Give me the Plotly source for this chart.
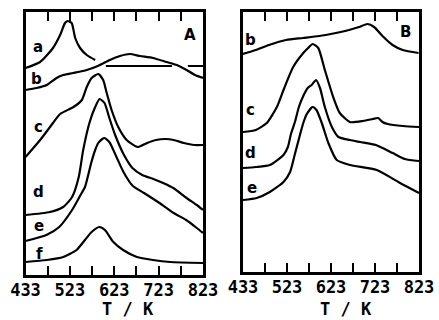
import plotly.graph_objects as go

# ---- Panel A data (T in K, signal in arbitrary offset units) ----
a_T = [423, 456, 485, 501, 512, 518, 527, 535, 546, 561, 580, 592, 604, 753, 770, 789, 823]
a_I = [207, 213, 227, 240, 252, 254, 252, 237, 227, 220, 215, None, 209, 209, None, 209, 209]

bA_T = [423, 448, 471, 493, 508, 530, 561, 586, 613, 636, 658, 681, 710, 741, 764, 786, 805, 823]
bA_I = [185, 187, 190, 197, 200, 202, 205, 209, 215, 219, 221, 219, 217, 213, 210, 205, 200, 197]

cA_T = [423, 456, 485, 501, 531, 550, 561, 572, 587, 598, 606, 617, 632, 651, 676, 697, 717, 739, 757, 780, 803, 823]
cA_I = [118, 135, 152, 161, 168, 175, 188, 197, 201, 195, 182, 165, 148, 135, 128, 132, 135, 136, 135, 132, 130, 130]

dA_T = [423, 478, 508, 528, 543, 553, 567, 580, 590, 601, 612, 625, 645, 664, 686, 711, 733, 756, 786, 809, 823]
dA_I = [60, 63, 68, 78, 98, 125, 152, 168, 176, 172, 157, 140, 120, 107, 100, 96, 92, 87, 77, 70, 65]

eA_T = [423, 470, 499, 528, 547, 557, 571, 580, 587, 596, 601, 612, 628, 645, 665, 690, 725, 757, 785, 809, 823]
eA_I = [34, 40, 48, 65, 80, 88, 112, 125, 132, 136, 137, 133, 118, 102, 89, 82, 72, 62, 55, 47, 42]

fA_T = [423, 471, 508, 538, 557, 572, 589, 602, 621, 643, 674, 710, 749, 823]
fA_I = [13, 15, 18, 25, 35, 43, 48, 45, 33, 25, 18, 15, 13, 12]

# ---- Panel B data ----
bB_T = [423, 452, 482, 521, 559, 596, 634, 664, 687, 706, 721, 740, 763, 786, 822]
bB_I = [218, 222, 227, 232, 234, 236, 239, 242, 245, 248, 245, 236, 227, 222, 219]

cB_T = [423, 452, 477, 500, 515, 537, 560, 571, 581, 594, 609, 628, 643, 666, 696, 718, 730, 740, 752, 787, 823]
cB_I = [140, 142, 149, 165, 182, 205, 219, 224, 228, 224, 202, 175, 159, 150, 151, 153, 154, 150, 148, 146, 145]

dB_T = [423, 452, 484, 515, 525, 532, 541, 550, 560, 570, 579, 589, 598, 609, 625, 640, 666, 689, 725, 763, 791, 823]
dB_I = [104, 105, 107, 117, 125, 138, 150, 165, 176, 184, 187, 192, 184, 165, 145, 135, 132, 130, 127, 119, 113, 111]

eB_T = [423, 454, 484, 515, 530, 541, 553, 560, 568, 581, 590, 602, 617, 636, 666, 727, 780, 823]
eB_I = [72, 74, 80, 90, 100, 118, 138, 149, 158, 165, 162, 149, 129, 112, 107, 102, 89, 79]

tick_vals = [423, 473, 523, 573, 623, 673, 723, 773, 823]
tick_text = ["433", "", "523", "", "623", "", "723", "", "823"]

labelsA = [("a", 452, 228), ("b", 448, 196), ("c", 452, 148), ("d", 452, 83), ("e", 454, 49), ("f", 454, 21)]
labelsB = [("b", 441, 232), ("c", 441, 162), ("d", 441, 119), ("e", 443, 84)]

fig = go.Figure()
line = dict(color="black", width=2.2, shape="spline", smoothing=0.6)
for T, I in [(a_T, a_I), (bA_T, bA_I), (cA_T, cA_I), (dA_T, dA_I), (eA_T, eA_I), (fA_T, fA_I)]:
    fig.add_trace(go.Scatter(x=T, y=I, mode="lines", line=line, xaxis="x", yaxis="y",
                             showlegend=False, hoverinfo="skip"))
for T, I in [(bB_T, bB_I), (cB_T, cB_I), (dB_T, dB_I), (eB_T, eB_I)]:
    fig.add_trace(go.Scatter(x=T, y=I, mode="lines", line=line, xaxis="x2", yaxis="y2",
                             showlegend=False, hoverinfo="skip"))

mono = dict(family="DejaVu Sans Mono", size=17, color="black", weight="bold")
xcommon = dict(range=[423, 823], tickvals=tick_vals, ticktext=tick_text, ticks="inside",
               ticklen=9, tickwidth=2, tickcolor="black", showline=True, linewidth=2.5,
               linecolor="black", mirror="ticks", showgrid=False, zeroline=False,
               tickfont=mono, fixedrange=True, automargin=False, ticklabelstandoff=-2)
ycommon = dict(showticklabels=False, ticks="", showline=True, linewidth=2.5, linecolor="black",
               mirror=True, showgrid=False, zeroline=False, fixedrange=True, automargin=False)

fig.update_layout(
    width=439, height=320, margin=dict(l=0, r=0, t=0, b=0, autoexpand=False),
    paper_bgcolor="white", plot_bgcolor="white",
    xaxis=dict(domain=[25.5 / 439, 203 / 439], anchor="y", **xcommon),
    yaxis=dict(domain=[45 / 320, 308 / 320], range=[0, 263], anchor="x", **ycommon),
    xaxis2=dict(domain=[243 / 439, 419 / 439], anchor="y2", **xcommon),
    yaxis2=dict(domain=[48 / 320, 308 / 320], range=[0, 260], anchor="x2", **ycommon),
)

lab = dict(family="DejaVu Sans", size=15, color="black", weight="bold")
ann = []
for t, x, y in labelsA:
    ann.append(dict(text=t, x=x, y=y, xref="x", yref="y", showarrow=False, font=lab))
for t, x, y in labelsB:
    ann.append(dict(text=t, x=x, y=y, xref="x2", yref="y2", showarrow=False, font=lab))
ann.append(dict(text="A", x=794, y=240, xref="x", yref="y", showarrow=False, font=lab))
ann.append(dict(text="B", x=793, y=240, xref="x2", yref="y2", showarrow=False, font=lab))
ann.append(dict(text="T / K", x=655, y=(320 - 309) / 320, xref="x", yref="paper",
                yanchor="middle", showarrow=False, font=mono))
ann.append(dict(text="T / K", x=656, y=(320 - 309) / 320, xref="x2", yref="paper",
                yanchor="middle", showarrow=False, font=mono))
fig.update_layout(annotations=ann)

fig.write_html("out.html")
